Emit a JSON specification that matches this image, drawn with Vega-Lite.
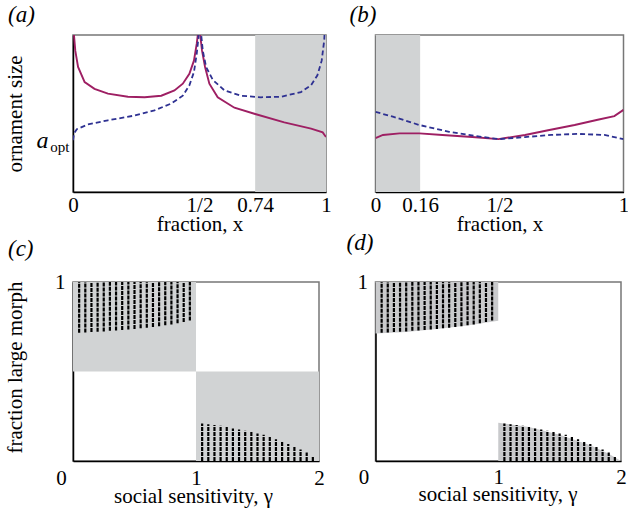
{
  "$schema": "https://vega.github.io/schema/vega-lite/v6.json",
  "padding": {"left": 3, "top": 3, "right": 2, "bottom": 2},
  "bounds": "flush",
  "align": "each",
  "columns": 2,
  "spacing": {"row": 90, "column": 49.5},
  "config": {
    "font": "Liberation Serif",
    "view": {"stroke": "#777", "strokeWidth": 1.5},
    "axis": {
      "grid": false, "ticks": false, "tickSize": 0,
      "domainColor": "#000", "domainWidth": 1.5,
      "labelFont": "Liberation Serif", "labelFontSize": 21, "labelColor": "#000",
      "titleFont": "Liberation Serif", "titleFontSize": 21, "titleFontWeight": "normal", "titleColor": "#000",
      "labelFlush": false, "labelOverlap": false, "format": "~g"
    },
    "title": {"font": "Liberation Serif", "fontSize": 23, "fontStyle": "italic", "fontWeight": "normal", "color": "#000", "anchor": "start", "baseline": "alphabetic", "frame": "group"}
  },
  "datasets": {
    "a_shade": [{"x": 0.72, "xe": 1.0}],
    "b_shade": [{"x": 0.0, "xe": 0.18}],
    "a_curves": [
      {"x": 0.002, "size": 3.4, "series": "solid"},
      {"x": 0.004, "size": 2.99, "series": "solid"},
      {"x": 0.009, "size": 2.7, "series": "solid"},
      {"x": 0.02, "size": 2.39, "series": "solid"},
      {"x": 0.046, "size": 2.1, "series": "solid"},
      {"x": 0.085, "size": 1.97, "series": "solid"},
      {"x": 0.138, "size": 1.88, "series": "solid"},
      {"x": 0.217, "size": 1.82, "series": "solid"},
      {"x": 0.283, "size": 1.81, "series": "solid"},
      {"x": 0.349, "size": 1.84, "series": "solid"},
      {"x": 0.401, "size": 1.94, "series": "solid"},
      {"x": 0.434, "size": 2.07, "series": "solid"},
      {"x": 0.46, "size": 2.26, "series": "solid"},
      {"x": 0.478, "size": 2.51, "series": "solid"},
      {"x": 0.489, "size": 2.83, "series": "solid"},
      {"x": 0.493, "size": 2.99, "series": "solid"},
      {"x": 0.497, "size": 3.4, "series": "solid"},
      {"x": 0.501, "size": 3.4, "series": "solid"},
      {"x": 0.503, "size": 2.99, "series": "solid"},
      {"x": 0.51, "size": 2.7, "series": "solid"},
      {"x": 0.522, "size": 2.39, "series": "solid"},
      {"x": 0.539, "size": 2.07, "series": "solid"},
      {"x": 0.572, "size": 1.81, "series": "solid"},
      {"x": 0.638, "size": 1.61, "series": "solid"},
      {"x": 0.72, "size": 1.49, "series": "solid"},
      {"x": 0.835, "size": 1.33, "series": "solid"},
      {"x": 0.941, "size": 1.21, "series": "solid"},
      {"x": 0.987, "size": 1.14, "series": "solid"},
      {"x": 1.0, "size": 1.05, "series": "solid"},
      {"x": 0.0, "size": 0.99, "series": "dashed"},
      {"x": 0.004, "size": 1.12, "series": "dashed"},
      {"x": 0.015, "size": 1.2, "series": "dashed"},
      {"x": 0.059, "size": 1.29, "series": "dashed"},
      {"x": 0.138, "size": 1.37, "series": "dashed"},
      {"x": 0.243, "size": 1.46, "series": "dashed"},
      {"x": 0.322, "size": 1.56, "series": "dashed"},
      {"x": 0.388, "size": 1.69, "series": "dashed"},
      {"x": 0.434, "size": 1.84, "series": "dashed"},
      {"x": 0.46, "size": 2.04, "series": "dashed"},
      {"x": 0.478, "size": 2.29, "series": "dashed"},
      {"x": 0.489, "size": 2.64, "series": "dashed"},
      {"x": 0.496, "size": 2.95, "series": "dashed"},
      {"x": 0.499, "size": 3.4, "series": "dashed"},
      {"x": 0.504, "size": 3.4, "series": "dashed"},
      {"x": 0.507, "size": 2.99, "series": "dashed"},
      {"x": 0.513, "size": 2.7, "series": "dashed"},
      {"x": 0.526, "size": 2.39, "series": "dashed"},
      {"x": 0.553, "size": 2.14, "series": "dashed"},
      {"x": 0.599, "size": 1.94, "series": "dashed"},
      {"x": 0.664, "size": 1.84, "series": "dashed"},
      {"x": 0.743, "size": 1.81, "series": "dashed"},
      {"x": 0.822, "size": 1.82, "series": "dashed"},
      {"x": 0.901, "size": 1.91, "series": "dashed"},
      {"x": 0.941, "size": 2.04, "series": "dashed"},
      {"x": 0.966, "size": 2.23, "series": "dashed"},
      {"x": 0.983, "size": 2.51, "series": "dashed"},
      {"x": 0.993, "size": 2.9, "series": "dashed"},
      {"x": 0.998, "size": 3.4, "series": "dashed"}
    ],
    "b_curves": [
      {"x": 0.0, "size": 1.03, "series": "solid"},
      {"x": 0.03, "size": 1.09, "series": "solid"},
      {"x": 0.097, "size": 1.12, "series": "solid"},
      {"x": 0.177, "size": 1.12, "series": "solid"},
      {"x": 0.27, "size": 1.09, "series": "solid"},
      {"x": 0.39, "size": 1.05, "series": "solid"},
      {"x": 0.496, "size": 1.01, "series": "solid"},
      {"x": 0.603, "size": 1.09, "series": "solid"},
      {"x": 0.696, "size": 1.18, "series": "solid"},
      {"x": 0.803, "size": 1.28, "series": "solid"},
      {"x": 0.896, "size": 1.38, "series": "solid"},
      {"x": 0.963, "size": 1.45, "series": "solid"},
      {"x": 1.0, "size": 1.57, "series": "solid"},
      {"x": 0.0, "size": 1.53, "series": "dashed"},
      {"x": 0.07, "size": 1.44, "series": "dashed"},
      {"x": 0.177, "size": 1.28, "series": "dashed"},
      {"x": 0.297, "size": 1.15, "series": "dashed"},
      {"x": 0.403, "size": 1.07, "series": "dashed"},
      {"x": 0.496, "size": 1.01, "series": "dashed"},
      {"x": 0.603, "size": 1.05, "series": "dashed"},
      {"x": 0.709, "size": 1.09, "series": "dashed"},
      {"x": 0.816, "size": 1.11, "series": "dashed"},
      {"x": 0.923, "size": 1.09, "series": "dashed"},
      {"x": 1.0, "size": 1.01, "series": "dashed"}
    ],
    "c_shade": [
      {"g0": 0, "g1": 1, "f0": 0.5, "f1": 1},
      {"g0": 1, "g1": 2, "f0": 0, "f1": 0.5}
    ],
    "d_env": [
      {"g": 0.0, "lo": 0.712, "hi": 1, "grp": "upper"},
      {"g": 0.25, "lo": 0.72, "hi": 1, "grp": "upper"},
      {"g": 0.5, "lo": 0.738, "hi": 1, "grp": "upper"},
      {"g": 0.75, "lo": 0.757, "hi": 1, "grp": "upper"},
      {"g": 1.0, "lo": 0.784, "hi": 1, "grp": "upper"},
      {"g": 1.0, "lo": 0, "hi": 0.214, "grp": "lower"},
      {"g": 1.25, "lo": 0, "hi": 0.19, "grp": "lower"},
      {"g": 1.5, "lo": 0, "hi": 0.146, "grp": "lower"},
      {"g": 1.75, "lo": 0, "hi": 0.088, "grp": "lower"},
      {"g": 1.9, "lo": 0, "hi": 0.041, "grp": "lower"},
      {"g": 2.0, "lo": 0, "hi": 0.0, "grp": "lower"}
    ],
    "stripes": [
      {"g": 0.05, "lo": 0.716, "hi": 1},
      {"g": 0.10, "lo": 0.718, "hi": 1},
      {"g": 0.15, "lo": 0.72, "hi": 1},
      {"g": 0.20, "lo": 0.722, "hi": 1},
      {"g": 0.25, "lo": 0.724, "hi": 1},
      {"g": 0.30, "lo": 0.727, "hi": 1},
      {"g": 0.35, "lo": 0.729, "hi": 1},
      {"g": 0.40, "lo": 0.732, "hi": 1},
      {"g": 0.45, "lo": 0.735, "hi": 1},
      {"g": 0.50, "lo": 0.738, "hi": 1},
      {"g": 0.55, "lo": 0.741, "hi": 1},
      {"g": 0.60, "lo": 0.745, "hi": 1},
      {"g": 0.65, "lo": 0.749, "hi": 1},
      {"g": 0.70, "lo": 0.753, "hi": 1},
      {"g": 0.75, "lo": 0.758, "hi": 1},
      {"g": 0.80, "lo": 0.763, "hi": 1},
      {"g": 0.85, "lo": 0.769, "hi": 1},
      {"g": 0.90, "lo": 0.776, "hi": 1},
      {"g": 0.95, "lo": 0.785, "hi": 1},
      {"g": 1.05, "lo": 0, "hi": 0.21},
      {"g": 1.10, "lo": 0, "hi": 0.205},
      {"g": 1.15, "lo": 0, "hi": 0.201},
      {"g": 1.20, "lo": 0, "hi": 0.197},
      {"g": 1.25, "lo": 0, "hi": 0.19},
      {"g": 1.30, "lo": 0, "hi": 0.182},
      {"g": 1.35, "lo": 0, "hi": 0.176},
      {"g": 1.40, "lo": 0, "hi": 0.169},
      {"g": 1.45, "lo": 0, "hi": 0.162},
      {"g": 1.50, "lo": 0, "hi": 0.154},
      {"g": 1.55, "lo": 0, "hi": 0.146},
      {"g": 1.60, "lo": 0, "hi": 0.136},
      {"g": 1.65, "lo": 0, "hi": 0.122},
      {"g": 1.70, "lo": 0, "hi": 0.108},
      {"g": 1.75, "lo": 0, "hi": 0.095},
      {"g": 1.80, "lo": 0, "hi": 0.08},
      {"g": 1.85, "lo": 0, "hi": 0.064},
      {"g": 1.90, "lo": 0, "hi": 0.048},
      {"g": 1.95, "lo": 0, "hi": 0.026}
    ]
  },
  "concat": [
    {
      "width": 253, "height": 157,
      "title": {"text": "(a)", "dx": -65, "offset": 8},
      "layer": [
        {
          "data": {"name": "a_shade"},
          "mark": {"type": "rect", "color": "#d1d3d4"},
          "encoding": {
            "x": {"field": "x", "type": "quantitative", "scale": {"domain": [0, 1], "nice": false},
                  "axis": {"values": [0, 0.5, 0.72, 1], "labelExpr": "datum.value == 0.5 ? '1/2' : (datum.value == 0.72 ? '0.74' : datum.label)", "labelPadding": 19, "labelBaseline": "alphabetic", "title": "fraction, x", "titleY": 38, "titleX": 126.5, "titleBaseline": "alphabetic"}},
            "x2": {"field": "xe"},
            "y": {"value": 0},
            "y2": {"value": "height"}
          }
        },
        {
          "data": {"name": "a_curves"},
          "transform": [{"filter": "datum.series === 'solid'"}],
          "mark": {"type": "line", "color": "#9e1f63", "strokeWidth": 1.9, "clip": true},
          "encoding": {
            "x": {"field": "x", "type": "quantitative", "scale": {"domain": [0, 1], "nice": false},
                  "axis": {"values": [0, 0.5, 0.72, 1], "labelExpr": "datum.value == 0.5 ? '1/2' : (datum.value == 0.72 ? '0.74' : datum.label)", "labelPadding": 19, "labelBaseline": "alphabetic", "title": "fraction, x", "titleY": 38, "titleX": 126.5, "titleBaseline": "alphabetic"}},
            "y": {"field": "size", "type": "quantitative", "scale": {"domain": [0, 3], "nice": false, "zero": false},
                  "axis": {"orient": "left", "values": [1], "labelExpr": "'a'", "labelFontStyle": "italic", "labelFontSize": 24, "labelPadding": 25, "labelBaseline": "alphabetic", "labelOffset": 8, "title": "ornament size", "titleX": -52, "titleY": 78.5, "titleAngle": -90, "titleBaseline": "alphabetic", "titleAlign": "center"}}
          }
        },
        {
          "data": {"name": "a_curves"},
          "transform": [{"filter": "datum.series === 'dashed'"}],
          "mark": {"type": "line", "color": "#2e3192", "strokeWidth": 1.8, "strokeDash": [5, 3], "clip": true},
          "encoding": {
            "x": {"field": "x", "type": "quantitative", "scale": {"domain": [0, 1], "nice": false},
                  "axis": {"values": [0, 0.5, 0.72, 1], "labelExpr": "datum.value == 0.5 ? '1/2' : (datum.value == 0.72 ? '0.74' : datum.label)", "labelPadding": 19, "labelBaseline": "alphabetic", "title": "fraction, x", "titleY": 38, "titleX": 126.5, "titleBaseline": "alphabetic"}},
            "y": {"field": "size", "type": "quantitative", "scale": {"domain": [0, 3], "nice": false, "zero": false},
                  "axis": {"orient": "left", "values": [1], "labelExpr": "'opt'", "labelFontSize": 15, "labelPadding": 4, "labelBaseline": "alphabetic", "labelOffset": 12, "domain": false, "title": null}}
          }
        }
      ],
      "resolve": {"scale": {"y": "independent"}, "axis": {"y": "independent"}}
    },
    {
      "width": 248, "height": 157,
      "title": {"text": "(b)", "dx": -26, "offset": 8},
      "layer": [
        {
          "data": {"name": "b_shade"},
          "mark": {"type": "rect", "color": "#d1d3d4"},
          "encoding": {
            "x": {"field": "x", "type": "quantitative", "scale": {"domain": [0, 1], "nice": false},
                  "axis": {"values": [0, 0.18, 0.5, 1], "labelExpr": "datum.value == 0.5 ? '1/2' : (datum.value == 0.18 ? '0.16' : datum.label)", "labelPadding": 19, "labelBaseline": "alphabetic", "title": "fraction, x", "titleY": 38, "titleX": 124, "titleBaseline": "alphabetic"}},
            "x2": {"field": "xe"},
            "y": {"value": 0},
            "y2": {"value": "height"}
          }
        },
        {
          "data": {"name": "b_curves"},
          "transform": [{"filter": "datum.series === 'solid'"}],
          "mark": {"type": "line", "color": "#9e1f63", "strokeWidth": 1.9, "clip": true},
          "encoding": {
            "x": {"field": "x", "type": "quantitative", "scale": {"domain": [0, 1], "nice": false},
                  "axis": {"values": [0, 0.18, 0.5, 1], "labelExpr": "datum.value == 0.5 ? '1/2' : (datum.value == 0.18 ? '0.16' : datum.label)", "labelPadding": 19, "labelBaseline": "alphabetic", "title": "fraction, x", "titleY": 38, "titleX": 124, "titleBaseline": "alphabetic"}},
            "y": {"field": "size", "type": "quantitative", "scale": {"domain": [0, 3], "nice": false, "zero": false},
                  "axis": {"values": [1], "labels": false, "title": null}}
          }
        },
        {
          "data": {"name": "b_curves"},
          "transform": [{"filter": "datum.series === 'dashed'"}],
          "mark": {"type": "line", "color": "#2e3192", "strokeWidth": 1.8, "strokeDash": [5, 3], "clip": true},
          "encoding": {
            "x": {"field": "x", "type": "quantitative", "scale": {"domain": [0, 1], "nice": false},
                  "axis": {"values": [0, 0.18, 0.5, 1], "labelExpr": "datum.value == 0.5 ? '1/2' : (datum.value == 0.18 ? '0.16' : datum.label)", "labelPadding": 19, "labelBaseline": "alphabetic", "title": "fraction, x", "titleY": 38, "titleX": 124, "titleBaseline": "alphabetic"}},
            "y": {"field": "size", "type": "quantitative", "scale": {"domain": [0, 3], "nice": false, "zero": false},
                  "axis": {"values": [1], "labels": false, "title": null}}
          }
        }
      ]
    },
    {
      "width": 246, "height": 179,
      "title": {"text": "(c)", "dx": -65, "offset": 10},
      "layer": [
        {
          "data": {"name": "c_shade"},
          "mark": {"type": "rect", "color": "#d1d3d4"},
          "encoding": {
            "x": {"field": "g0", "type": "quantitative", "scale": {"domain": [0, 2], "nice": false},
                  "axis": {"values": [0, 1, 2], "labelOffset": {"condition": {"test": "datum.value === 0", "value": -12}, "value": 0}, "labelPadding": 23, "labelBaseline": "alphabetic", "title": "social sensitivity, γ", "titleY": 41, "titleX": 120, "titleBaseline": "alphabetic"}},
            "x2": {"field": "g1"},
            "y": {"field": "f0", "type": "quantitative", "scale": {"domain": [0, 1], "nice": false},
                  "axis": {"values": [1], "labelPadding": 8, "labelBaseline": "middle", "title": "fraction large morph", "titleX": -52, "titleY": 85, "titleAngle": -90, "titleBaseline": "alphabetic", "titleAlign": "center"}},
            "y2": {"field": "f1"}
          }
        },
        {
          "data": {"name": "stripes"},
          "mark": {"type": "rule", "color": "#000", "strokeWidth": 2.2, "strokeDash": [4, 1]},
          "encoding": {
            "x": {"field": "g", "type": "quantitative", "scale": {"domain": [0, 2], "nice": false},
                  "axis": {"values": [0, 1, 2], "labelOffset": {"condition": {"test": "datum.value === 0", "value": -12}, "value": 0}, "labelPadding": 23, "labelBaseline": "alphabetic", "title": "social sensitivity, γ", "titleY": 41, "titleX": 120, "titleBaseline": "alphabetic"}},
            "y": {"field": "lo", "type": "quantitative", "scale": {"domain": [0, 1], "nice": false},
                  "axis": {"values": [1], "labelPadding": 8, "labelBaseline": "middle", "title": "fraction large morph", "titleX": -52, "titleY": 85, "titleAngle": -90, "titleBaseline": "alphabetic", "titleAlign": "center"}},
            "y2": {"field": "hi"}
          }
        }
      ]
    },
    {
      "width": 245.5, "height": 179,
      "title": {"text": "(d)", "dx": -29, "offset": 16},
      "layer": [
        {
          "data": {"name": "d_env"},
          "mark": {"type": "area", "color": "#c9cacc", "opacity": 1},
          "encoding": {
            "x": {"field": "g", "type": "quantitative", "scale": {"domain": [0, 2], "nice": false},
                  "axis": {"values": [0, 1, 2], "labelOffset": {"condition": {"test": "datum.value === 0", "value": -12}, "value": 0}, "labelPadding": 22, "labelBaseline": "alphabetic", "title": "social sensitivity, γ", "titleY": 39, "titleX": 122, "titleBaseline": "alphabetic"}},
            "y": {"field": "lo", "type": "quantitative", "scale": {"domain": [0, 1], "nice": false},
                  "axis": {"values": [1], "labelPadding": 8, "labelBaseline": "middle", "title": null}},
            "y2": {"field": "hi"},
            "detail": {"field": "grp"}
          }
        },
        {
          "data": {"name": "stripes"},
          "mark": {"type": "rule", "color": "#000", "strokeWidth": 2.2, "strokeDash": [4, 1]},
          "encoding": {
            "x": {"field": "g", "type": "quantitative", "scale": {"domain": [0, 2], "nice": false},
                  "axis": {"values": [0, 1, 2], "labelOffset": {"condition": {"test": "datum.value === 0", "value": -12}, "value": 0}, "labelPadding": 22, "labelBaseline": "alphabetic", "title": "social sensitivity, γ", "titleY": 39, "titleX": 122, "titleBaseline": "alphabetic"}},
            "y": {"field": "lo", "type": "quantitative", "scale": {"domain": [0, 1], "nice": false},
                  "axis": {"values": [1], "labelPadding": 8, "labelBaseline": "middle", "title": null}},
            "y2": {"field": "hi"}
          }
        }
      ]
    }
  ]
}
